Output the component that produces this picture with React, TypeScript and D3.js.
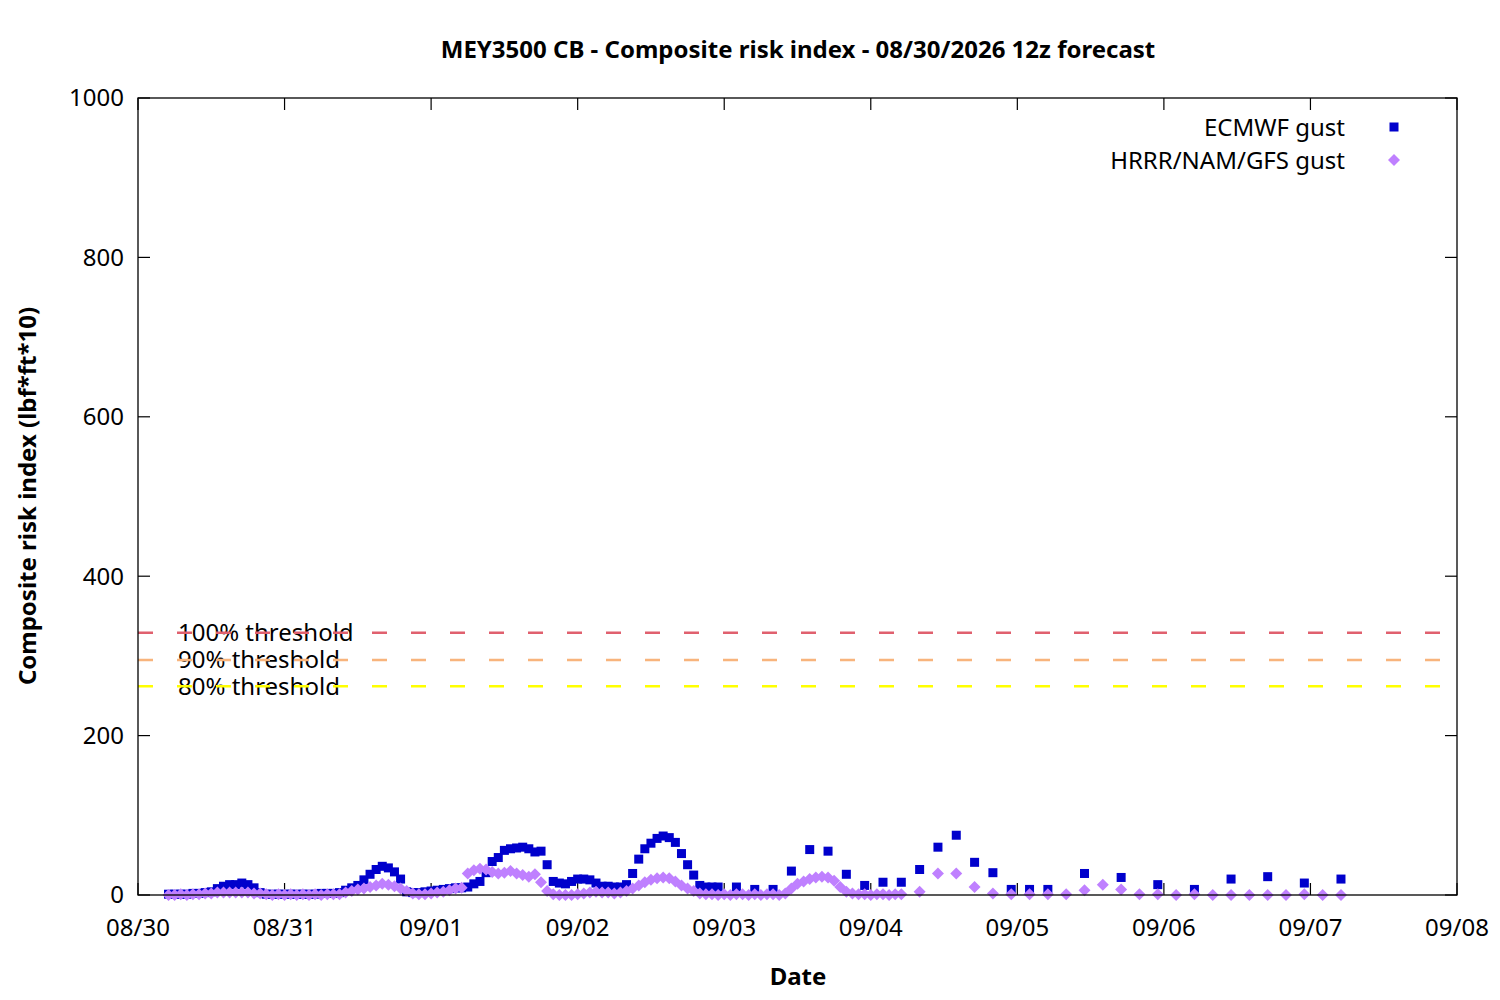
import React from "react";
import * as d3 from "d3";

const title = "MEY3500 CB - Composite risk index - 08/30/2026 12z forecast";
const xLabel = "Date";
const yLabel = "Composite risk index (lbf*ft*10)";
const yTicks = [0, 200, 400, 600, 800, 1000];
const xTickDays = [30, 31, 32, 33, 34, 35, 36, 37, 38, 39]; // day offsets from Aug 0
const legendNames = ["ECMWF gust", "HRRR/NAM/GFS gust"];

// hours since 08/30 00:00 for each sample block
const ecmwfHourlyStart = 5;
const ecmwfHourlyEnd = 95;
const ecmwf3hStart = 98;
const ecmwf3hEnd = 149;
const ecmwf6hStart = 155;
const ecmwf6hEnd = 197;

const ecmwfHourlyValues = [
  1, 1, 1, 1, 2, 2, 3,
  4, 8, 11, 13, 13, 15, 13, 9, 3, 1,
  1, 1, 1, 1, 1, 1, 1, 1, 2, 2, 2, 3,
  6, 9, 12, 19, 26, 32, 36, 34, 29, 20,
  4, 3, 3, 4, 5, 6, 7, 8, 9, 9,
  10, 14, 17, 28, 42, 47, 56, 58, 59, 60, 58, 54, 55, 38, 17, 15, 14, 17, 20, 20, 19, 15,
  11, 11, 10, 10, 13, 27, 45, 58, 65, 71, 74, 72, 66, 52, 38, 25, 12, 10, 10, 10,
];
const ecmwf3hValues = [10, 7, 7, 30, 57, 55, 26, 12, 16, 16, 32, 60, 75, 41, 28, 7, 7, 7];
const ecmwf6hValues = [27, 22, 13, 7, 20, 23, 15, 20];

const hrrrHourlyStart = 5;
const hrrrHourlyEnd = 125;
const hrrr3hStart = 128;
const hrrr3hEnd = 197;

const hrrrHourlyValues = [
  0, 0, 1, 0, 1, 1, 2,
  2, 3, 3, 3, 3, 3, 3, 2, 2, 1,
  0, 1, 0, 1, 0, 1, 0, 1, 0, 1, 1, 1,
  3, 5, 7, 8, 10, 12, 14, 13, 11, 8, 5, 2,
  1, 1, 2, 3, 4, 6, 8, 9,
  27, 31, 33, 32, 29, 27, 28, 30, 27, 25, 23, 26, 16, 5, 1, 0, 0, 0, 1, 2, 3, 4,
  3, 3, 2, 3, 5, 8, 12, 16, 19, 21, 22, 21, 17, 12, 8, 5, 2, 1, 1, 0,
  1, 0, 1, 1, 0, 1, 0, 1, 1, 0, 2,
  8, 14, 17, 20, 22, 23, 22, 18, 10, 4, 2, 1, 1, 0, 1, 1, 0, 1, 1,
];
const hrrr3hValues = [4, 27, 27, 10, 2, 1, 1, 1, 1, 6, 13, 7, 1, 1, 0, 1, 0, 0, 0, 0, 0, 1, 0, 0];

const thresholdNames = ["100% threshold", "90% threshold", "80% threshold"];
const thresholdValues = [329, 295, 262];
const thresholdColors = ["#e0606e", "#f8b47c", "#ffff00"];

const ecmwfColor = "#0000cc";
const hrrrColor = "#bf80ff";

const FONT = "'Noto Sans', 'Open Sans', sans-serif";
const FS = 24;

function hourDate(h: number) {
  return new Date(Date.UTC(2026, 7, 30, 0) + h * 3600 * 1000);
}

function buildSeries(blocks: [number, number, number, number[]][]) {
  const out: { t: Date; v: number }[] = [];
  for (const [start, end, step, vals] of blocks) {
    const hours = d3.range(start, end + 1, step);
    hours.forEach((h, i) => {
      if (i < vals.length) out.push({ t: hourDate(h), v: vals[i] });
    });
  }
  return out;
}

export default function App() {
  const W = 1500;
  const H = 1000;
  const left = 138;
  const right = 1457;
  const top = 98;
  const bottom = 895;

  const x = d3
    .scaleUtc()
    .domain([new Date(Date.UTC(2026, 7, 30)), new Date(Date.UTC(2026, 8, 8))])
    .range([left, right]);
  const y = d3.scaleLinear().domain([0, 1000]).range([bottom, top]);
  const fmt = d3.utcFormat("%m/%d");

  const ecmwf = buildSeries([
    [ecmwfHourlyStart, ecmwfHourlyEnd, 1, ecmwfHourlyValues],
    [ecmwf3hStart, ecmwf3hEnd, 3, ecmwf3hValues],
    [ecmwf6hStart, ecmwf6hEnd, 6, ecmwf6hValues],
  ]);
  const hrrr = buildSeries([
    [hrrrHourlyStart, hrrrHourlyEnd, 1, hrrrHourlyValues],
    [hrrr3hStart, hrrr3hEnd, 3, hrrr3hValues],
  ]);

  const xTicks = xTickDays.map((d) => new Date(Date.UTC(2026, 7, d)));
  const sq = 9;
  const dm = 6;
  const diamondPath = (cx: number, cy: number) =>
    `M${cx},${cy - dm}L${cx + dm},${cy}L${cx},${cy + dm}L${cx - dm},${cy}Z`;
  const tickLen = 12;

  return (
    <svg width={W} height={H} style={{ position: "absolute", left: 0, top: 0, background: "#fff" }}>
      <rect x={0} y={0} width={W} height={H} fill="#fff" />
      <text x={798} y={50} dy="0.35em" textAnchor="middle" fontFamily={FONT} fontWeight="bold" fontSize={FS}>
        {title}
      </text>

      {/* threshold labels then dashed lines */}
      {thresholdValues.map((v, i) => (
        <text
          key={"tl" + i}
          x={178}
          y={y(v)}
          dy="0.35em"
          fontFamily={FONT}
          fontSize={FS}
          fill="#000"
        >
          {thresholdNames[i]}
        </text>
      ))}
      {thresholdValues.map((v, i) => (
        <line
          key={"th" + i}
          x1={left}
          x2={right}
          y1={y(v)}
          y2={y(v)}
          stroke={thresholdColors[i]}
          strokeWidth={2.5}
          strokeDasharray="15 24"
        />
      ))}

      {/* ticks */}
      {yTicks.map((t) => (
        <g key={"yt" + t}>
          <line x1={left} x2={left + tickLen} y1={y(t)} y2={y(t)} stroke="#000" strokeWidth={1.2} />
          <line x1={right} x2={right - tickLen} y1={y(t)} y2={y(t)} stroke="#000" strokeWidth={1.2} />
          <text x={124} y={y(t)} dy="0.35em" textAnchor="end" fontFamily={FONT} fontSize={FS}>
            {t}
          </text>
        </g>
      ))}
      {xTicks.map((t, i) => (
        <g key={"xt" + i}>
          <line x1={x(t)} x2={x(t)} y1={bottom} y2={bottom - tickLen} stroke="#000" strokeWidth={1.2} />
          <line x1={x(t)} x2={x(t)} y1={top} y2={top + tickLen} stroke="#000" strokeWidth={1.2} />
          <text x={x(t)} y={928} dy="0.35em" textAnchor="middle" fontFamily={FONT} fontSize={FS}>
            {fmt(t)}
          </text>
        </g>
      ))}

      {/* data */}
      {ecmwf.map((d, i) => (
        <rect
          key={"e" + i}
          x={x(d.t) - sq / 2}
          y={y(d.v) - sq / 2}
          width={sq}
          height={sq}
          fill={ecmwfColor}
        />
      ))}
      {hrrr.map((d, i) => (
        <path key={"h" + i} d={diamondPath(x(d.t), y(d.v))} fill={hrrrColor} />
      ))}

      {/* border */}
      <rect x={left} y={top} width={right - left} height={bottom - top} fill="none" stroke="#000" strokeWidth={1.3} />

      {/* legend */}
      <text x={1345} y={128} dy="0.35em" textAnchor="end" fontFamily={FONT} fontSize={FS}>
        {legendNames[0]}
      </text>
      <rect x={1394 - sq / 2} y={127 - sq / 2} width={sq} height={sq} fill={ecmwfColor} />
      <text x={1345} y={161} dy="0.35em" textAnchor="end" fontFamily={FONT} fontSize={FS}>
        {legendNames[1]}
      </text>
      <path d={diamondPath(1394, 160)} fill={hrrrColor} />

      {/* axis labels */}
      <text x={798} y={977} dy="0.35em" textAnchor="middle" fontFamily={FONT} fontWeight="bold" fontSize={FS}>
        {xLabel}
      </text>
      <text
        transform={`translate(28,${496}) rotate(-90)`}
        dy="0.35em"
        textAnchor="middle"
        fontFamily={FONT}
        fontWeight="bold"
        fontSize={FS}
      >
        {yLabel}
      </text>
    </svg>
  );
}
